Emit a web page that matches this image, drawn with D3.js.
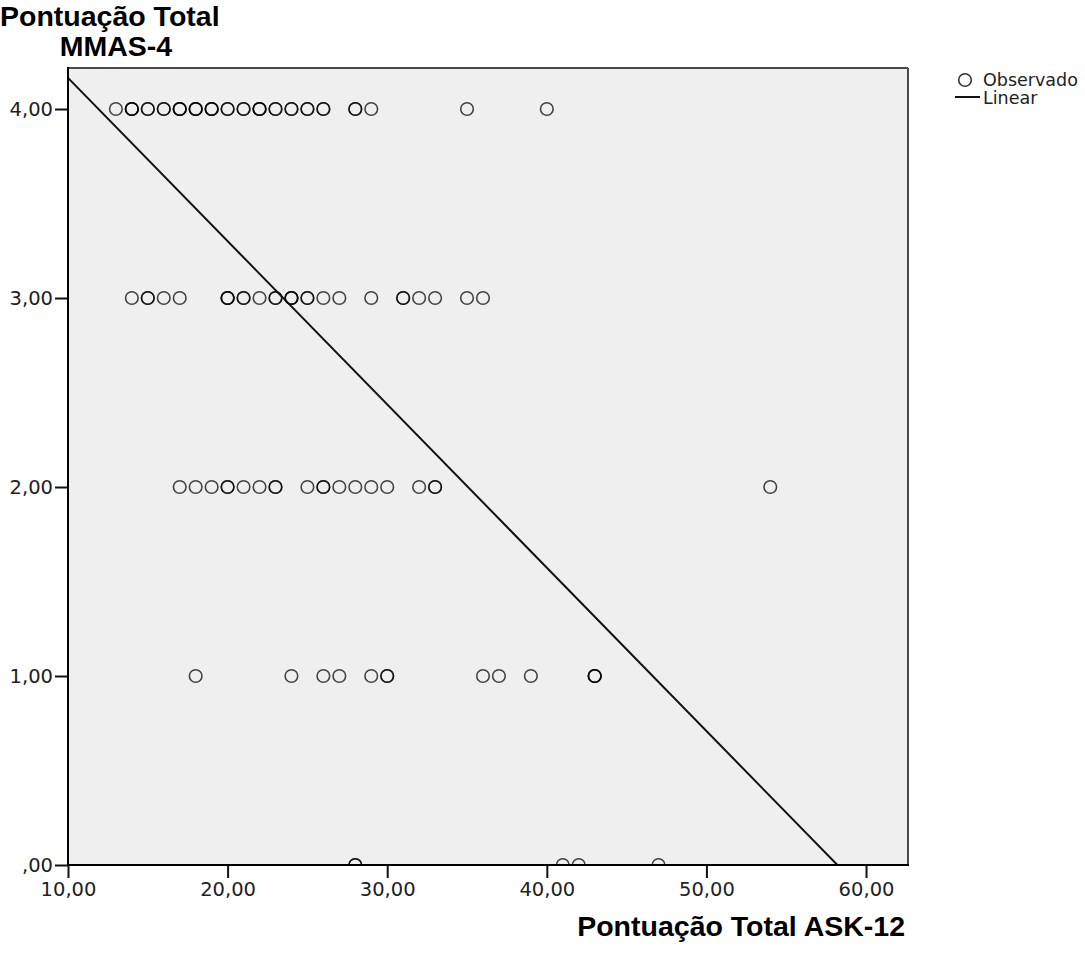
<!DOCTYPE html>
<html>
<head>
<meta charset="utf-8">
<script src="https://cdn.jsdelivr.net/npm/d3@7"></script>
<style>
  body { margin: 0; background: #fff; }
</style>
</head>
<body>
<div id="chart"></div>
<script>
// ASK-12 scores observed at each MMAS-4 level (repeats = overlapping cases)
var mmas4 = [26, 28, 29, 13, 14, 14, 14, 15, 15, 16, 16, 17, 17, 17, 18, 18, 18, 19, 19, 19, 20, 20, 21, 21, 22, 22, 22, 23, 23, 24, 24, 25, 25, 26, 28, 35, 40];
var mmas3 = [14, 15, 15, 16, 17, 20, 20, 20, 21, 21, 22, 23, 23, 24, 24, 24, 25, 25, 26, 27, 29, 31, 31, 32, 33, 35, 36];
var mmas2 = [17, 18, 19, 20, 20, 21, 22, 23, 23, 25, 26, 26, 27, 28, 29, 30, 32, 33, 33, 54];
var mmas1 = [18, 24, 26, 27, 29, 30, 30, 36, 37, 39, 43, 43, 43];
var mmas0 = [28, 28, 41, 42, 47];

// linear fit
var fitIntercept = 5.029;
var fitSlope = -0.0864;

var xTicks = [10, 20, 30, 40, 50, 60];
var xTickLabels = ["10,00", "20,00", "30,00", "40,00", "50,00", "60,00"];
var yTicks = [0, 1, 2, 3, 4];
var yTickLabels = [",00", "1,00", "2,00", "3,00", "4,00"];

var width = 1085, height = 954;
var plotLeft = 68, plotTop = 68, plotRight = 908, plotBottom = 865;

var points = [];
[mmas0, mmas1, mmas2, mmas3, mmas4].forEach(function (arr, level) {
  arr.forEach(function (v) { points.push({ x: v, y: level }); });
});

var svg = d3.select("#chart").append("svg")
  .attr("width", width)
  .attr("height", height);

var x = d3.scaleLinear().domain([10, 62.63]).range([plotLeft, plotRight]);
var y = d3.scaleLinear().domain([0, 4.217]).range([plotBottom, plotTop]);

// plot background
svg.append("rect")
  .attr("x", plotLeft).attr("y", plotTop)
  .attr("width", plotRight - plotLeft).attr("height", plotBottom - plotTop)
  .style("fill", "#efefef");

svg.append("defs").append("clipPath").attr("id", "plotClip")
  .append("rect")
  .attr("x", plotLeft).attr("y", plotTop)
  .attr("width", plotRight - plotLeft).attr("height", plotBottom - plotTop);

var plot = svg.append("g").attr("clip-path", "url(#plotClip)");

// points
plot.selectAll("circle.obs")
  .data(points)
  .enter().append("circle")
  .attr("class", "obs")
  .attr("cx", d => x(d.x))
  .attr("cy", d => y(d.y))
  .attr("r", 6.3)
  .style("fill", "none")
  .style("stroke", "#000")
  .style("stroke-opacity", 0.72)
  .style("stroke-width", 1.6);

// fit line, from x=10 to where it meets zero
var xEnd = -fitIntercept / fitSlope;
plot.append("line")
  .attr("x1", x(10))
  .attr("y1", y(fitIntercept + fitSlope * 10))
  .attr("x2", x(xEnd))
  .attr("y2", y(0))
  .style("stroke", "#111")
  .style("stroke-width", 2);

// frame: top and right in grey
svg.append("line")
  .attr("x1", plotLeft).attr("x2", plotRight).attr("y1", plotTop).attr("y2", plotTop)
  .style("stroke", "#4a4a4a").style("stroke-width", 2);
svg.append("line")
  .attr("x1", plotRight).attr("x2", plotRight).attr("y1", plotTop).attr("y2", plotBottom)
  .style("stroke", "#4a4a4a").style("stroke-width", 2);

// axes
var xAxis = d3.axisBottom(x)
  .tickValues(xTicks)
  .tickSize(13)
  .tickPadding(4)
  .tickFormat((d, i) => xTickLabels[i]);

var yAxis = d3.axisLeft(y)
  .tickValues(yTicks)
  .tickSize(13)
  .tickPadding(2)
  .tickFormat((d, i) => yTickLabels[i]);

var gx = svg.append("g")
  .attr("transform", "translate(0," + plotBottom + ")")
  .call(xAxis);
var gy = svg.append("g")
  .attr("transform", "translate(" + plotLeft + ",0)")
  .call(yAxis);

[gx, gy].forEach(function (g) {
  g.select(".domain").remove();
  g.selectAll(".tick line").style("stroke", "#111").style("stroke-width", 2);
  g.selectAll(".tick text")
    .style("font-family", "DejaVu Sans")
    .style("font-size", "19.5px")
    .style("fill", "#222");
});

svg.append("line")
  .attr("x1", plotLeft).attr("x2", plotLeft).attr("y1", plotTop - 1).attr("y2", plotBottom + 1)
  .style("stroke", "#000").style("stroke-width", 2);
svg.append("line")
  .attr("x1", plotLeft - 1).attr("x2", plotRight + 1).attr("y1", plotBottom).attr("y2", plotBottom)
  .style("stroke", "#000").style("stroke-width", 2);

// titles
svg.append("text")
  .attr("x", 0).attr("y", 26)
  .style("font-family", "Liberation Sans, Arial")
  .style("font-weight", 700)
  .style("font-size", "28.5px")
  .text("Pontuação Total");

svg.append("text")
  .attr("x", 116).attr("y", 56)
  .attr("text-anchor", "middle")
  .style("font-family", "Liberation Sans, Arial")
  .style("font-weight", 700)
  .style("font-size", "28.5px")
  .text("MMAS-4");

svg.append("text")
  .attr("x", 905).attr("y", 936)
  .attr("text-anchor", "end")
  .style("font-family", "Liberation Sans, Arial")
  .style("font-weight", 700)
  .style("font-size", "28.5px")
  .text("Pontuação Total ASK-12");

// legend
svg.append("circle")
  .attr("cx", 965).attr("cy", 80).attr("r", 6.3)
  .style("fill", "none")
  .style("stroke", "#333")
  .style("stroke-width", 1.6);
svg.append("text")
  .attr("x", 983).attr("y", 86)
  .style("font-family", "DejaVu Sans")
  .style("font-size", "17.5px")
  .style("fill", "#222")
  .text("Observado");
svg.append("line")
  .attr("x1", 955).attr("x2", 980).attr("y1", 97).attr("y2", 97)
  .style("stroke", "#111").style("stroke-width", 2);
svg.append("text")
  .attr("x", 983).attr("y", 104)
  .style("font-family", "DejaVu Sans")
  .style("font-size", "17.5px")
  .style("fill", "#222")
  .text("Linear");
</script>
</body>
</html>
